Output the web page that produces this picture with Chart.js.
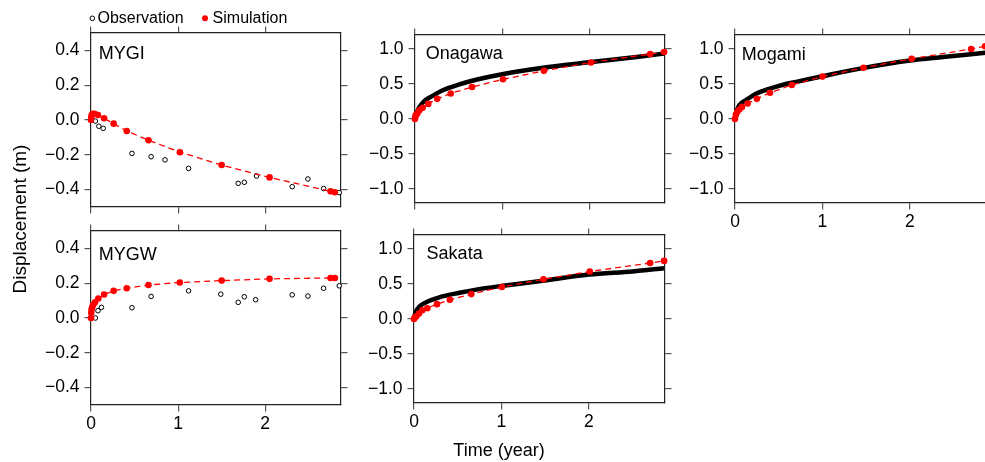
<!DOCTYPE html>
<html><head><meta charset="utf-8">
<script src="https://cdn.jsdelivr.net/npm/chart.js@4/dist/chart.umd.min.js"></script>
<style>
html,body{margin:0;padding:0;background:#fff;overflow:hidden;width:985px;height:462px;position:relative;}
canvas{position:absolute;left:0;top:0;}
</style></head><body>
<canvas id="p1"></canvas><canvas id="p2"></canvas><canvas id="p3"></canvas><canvas id="p4"></canvas><canvas id="p5"></canvas>
<script>
// ---------- data ----------
const timeTicks = [0, 1, 2];
const timeTickLabels = ['0', '1', '2'];
const gpsTicks = [0.4, 0.2, 0, -0.2, -0.4];
const gpsTickLabels = ['0.4', '0.2', '0.0', '\u22120.2', '\u22120.4'];
const insarTicks = [1, 0.5, 0, -0.5, -1];
const insarTickLabels = ['1.0', '0.5', '0.0', '\u22120.5', '\u22121.0'];

const mygiObsT = [0.05, 0.09, 0.14, 0.47, 0.69, 0.85, 1.12, 1.69, 1.76, 1.90, 2.31, 2.49, 2.67, 2.85];
const mygiObsD = [-0.006, -0.036, -0.048, -0.192, -0.211, -0.229, -0.278, -0.364, -0.358, -0.322, -0.383, -0.339, -0.394, -0.417];
const mygiSimT = [0, 0.004, 0.01, 0.02, 0.04, 0.08, 0.15, 0.26, 0.41, 0.66, 1.02, 1.5, 2.05, 2.75, 2.8];
const mygiSimD = [0, 0.018, 0.03, 0.036, 0.036, 0.029, 0.01, -0.021, -0.063, -0.116, -0.185, -0.259, -0.33, -0.41, -0.415];

const mygwObsT = [0.05, 0.08, 0.12, 0.47, 0.69, 1.12, 1.49, 1.69, 1.76, 1.89, 2.31, 2.49, 2.67, 2.85];
const mygwObsD = [0.0, 0.042, 0.061, 0.059, 0.124, 0.156, 0.137, 0.09, 0.122, 0.105, 0.133, 0.126, 0.171, 0.185];
const mygwSimT = [0, 0.003, 0.007, 0.015, 0.025, 0.046, 0.084, 0.15, 0.26, 0.41, 0.66, 1.02, 1.5, 2.05, 2.75, 2.8];
const mygwSimD = [0, 0.03, 0.05, 0.065, 0.075, 0.09, 0.112, 0.135, 0.156, 0.171, 0.19, 0.204, 0.215, 0.225, 0.23, 0.23];

const onaObsT = [0, 0.01, 0.03, 0.05, 0.08, 0.12, 0.2, 0.32, 0.5, 0.7, 1.0, 1.43, 2.0, 2.57, 2.86];
const onaObsD = [0, 0.05, 0.12, 0.17, 0.22, 0.27, 0.33, 0.41, 0.49, 0.56, 0.64, 0.725, 0.81, 0.89, 0.935];
const onaSimT = [0, 0.005, 0.012, 0.027, 0.05, 0.088, 0.152, 0.255, 0.41, 0.655, 1.01, 1.48, 2.02, 2.70, 2.86];
const onaSimD = [0, 0.04, 0.06, 0.077, 0.125, 0.159, 0.216, 0.288, 0.365, 0.457, 0.567, 0.688, 0.808, 0.928, 0.957];

const mogObsT = [0, 0.01, 0.03, 0.05, 0.125, 0.24, 0.39, 0.55, 0.70, 1.0, 1.43, 2.0, 2.38, 2.86];
const mogObsD = [0, 0.08, 0.15, 0.2, 0.27, 0.36, 0.43, 0.49, 0.53, 0.61, 0.72, 0.835, 0.885, 0.945];
const mogSimT = [0, 0.01, 0.025, 0.05, 0.08, 0.145, 0.25, 0.40, 0.65, 1.0, 1.47, 2.02, 2.70, 2.86];
const mogSimD = [0, 0.06, 0.1, 0.135, 0.173, 0.221, 0.288, 0.375, 0.486, 0.606, 0.733, 0.86, 1.0, 1.04];

const sakObsT = [0, 0.02, 0.065, 0.14, 0.29, 0.52, 0.71, 1.02, 1.43, 2.0, 2.5, 2.86];
const sakObsD = [0.02, 0.1, 0.18, 0.24, 0.31, 0.375, 0.42, 0.475, 0.54, 0.635, 0.68, 0.725];
const sakSimT = [0, 0.01, 0.027, 0.057, 0.095, 0.152, 0.263, 0.41, 0.655, 1.005, 1.48, 2.01, 2.70, 2.86];
const sakSimD = [0, 0.02, 0.038, 0.077, 0.125, 0.154, 0.212, 0.274, 0.356, 0.457, 0.567, 0.678, 0.80, 0.83];

const seriesNames = ['Observation', 'Simulation'];
const axisTitleY = 'Displacement (m)';
const axisTitleX = 'Time (year)';
const TMAX = 2.87;

// ---------- layout ----------
const CW = 1010, CH = 462;
const YW = 70, RW = 20, TW = 20, BW = 40;
const FONT = '"Liberation Sans", Arial, Helvetica, sans-serif';
const zip = (t, d) => t.map((v, i) => ({x: v, y: d[i]}));

const panelLabel = {
  id: 'panelLabel',
  afterDraw(chart, args, o) {
    const {ctx, chartArea: a} = chart;
    ctx.save();
    ctx.font = '18px ' + FONT;
    ctx.fillStyle = '#000';
    ctx.textBaseline = 'alphabetic';
    ctx.textAlign = 'left';
    ctx.fillText(o.text, a.left + o.dx, a.top + o.dy);
    ctx.restore();
  }
};

const globalText = {
  id: 'globalText',
  afterDraw(chart, args, o) {
    if (!o.on) return;
    const ctx = chart.ctx;
    ctx.save();
    ctx.fillStyle = '#000';
    ctx.font = '16px ' + FONT;
    ctx.textBaseline = 'alphabetic';
    ctx.textAlign = 'left';
    // legend
    ctx.beginPath(); ctx.arc(92.3, 18.3, 2.3, 0, Math.PI * 2);
    ctx.lineWidth = 1; ctx.strokeStyle = '#000'; ctx.stroke();
    ctx.fillText(seriesNames[0], 97.5, 23.3);
    ctx.beginPath(); ctx.arc(205, 18.3, 3, 0, Math.PI * 2);
    ctx.fillStyle = '#ff0000'; ctx.fill();
    ctx.fillStyle = '#000';
    ctx.fillText(seriesNames[1], 212.6, 23.3);
    // axis titles
    ctx.font = '18px ' + FONT;
    ctx.textAlign = 'center';
    ctx.fillText(axisTitleX, 499, 456);
    ctx.font = '19px ' + FONT;
    ctx.translate(25.5, 219);
    ctx.rotate(-Math.PI / 2);
    ctx.fillText(axisTitleY, 0, 0);
    ctx.restore();
  }
};

function axis(pos, min, max, ticks, labels, showLabels, fit) {
  const horiz = pos === 'top' || pos === 'bottom';
  return {
    type: 'linear', position: pos, min: min, max: max,
    afterBuildTicks: s => { s.ticks = ticks.map(v => ({value: v})); },
    afterFit: s => { if (horiz) s.height = fit; else s.width = fit; },
    ticks: {
      display: showLabels, autoSkip: false, maxRotation: 0,
      padding: horiz ? 2.5 : 5,
      color: '#000',
      font: {family: FONT, size: 17.5},
      callback: (v, i) => labels[i]
    },
    grid: {drawOnChartArea: false, drawTicks: true, tickLength: 6.5, color: '#555', lineWidth: 1.2},
    border: {display: true, color: '#222', width: 1.2}
  };
}

function makePanel(id, p) {
  const cv = document.getElementById(id);
  cv.width = CW; cv.height = CH;
  cv.style.width = CW + 'px'; cv.style.height = CH + 'px';
  const datasets = [];
  datasets.push({
    label: seriesNames[1], data: zip(p.simT, p.simD), order: 0, clip: false,
    borderColor: '#ff0000', borderWidth: 1.3, borderDash: [6, 4],
    pointRadius: 3.3, pointBackgroundColor: '#ff0000', pointBorderWidth: 0,
    showLine: true, tension: 0
  });
  if (p.dense) {
    datasets.push({
      label: seriesNames[0], data: zip(p.obsT, p.obsD), order: 1, clip: false,
      borderColor: '#000', borderWidth: 4.5, pointRadius: 0, showLine: true,
      cubicInterpolationMode: 'monotone'
    });
  } else {
    datasets.push({
      label: seriesNames[0], data: zip(p.obsT, p.obsD), order: 1, clip: false,
      borderColor: '#000', backgroundColor: '#fff', pointBorderColor: '#000',
      pointBackgroundColor: '#fff', pointBorderWidth: 1, pointRadius: 2.3, showLine: false
    });
  }
  const a = p.area;
  new Chart(cv, {
    type: 'scatter',
    data: {datasets},
    options: {
      responsive: false, animation: false, devicePixelRatio: 1,
      layout: {padding: {left: a.l - YW, right: CW - a.r - RW, top: a.t - TW, bottom: CH - a.b - BW}},
      plugins: {legend: {display: false}, tooltip: {enabled: false},
        panelLabel: {text: p.label, dx: p.dx, dy: p.dy},
        globalText: {on: !!p.global}},
      scales: {
        x: axis('bottom', 0, TMAX, timeTicks, timeTickLabels, p.showX, BW),
        x2: axis('top', 0, TMAX, timeTicks, timeTickLabels, false, TW),
        y: axis('left', p.yMin, p.yMax, p.yTicks, p.yLabels, true, YW),
        y2: axis('right', p.yMin, p.yMax, p.yTicks, p.yLabels, false, RW)
      }
    },
    plugins: [panelLabel, globalText]
  });
}

makePanel('p1', {area: {l: 91, r: 341, t: 33, b: 207}, yMin: -0.5, yMax: 0.5, yTicks: gpsTicks, yLabels: gpsTickLabels,
  showX: false, label: 'MYGI', dx: 7.7, dy: 25.5, obsT: mygiObsT, obsD: mygiObsD, simT: mygiSimT, simD: mygiSimD, global: true});
makePanel('p2', {area: {l: 91, r: 341, t: 231, b: 405}, yMin: -0.5, yMax: 0.5, yTicks: gpsTicks, yLabels: gpsTickLabels,
  showX: true, label: 'MYGW', dx: 7.7, dy: 28.5, obsT: mygwObsT, obsD: mygwObsD, simT: mygwSimT, simD: mygwSimD});
makePanel('p3', {area: {l: 415, r: 665, t: 35, b: 203}, yMin: -1.2, yMax: 1.2, yTicks: insarTicks, yLabels: insarTickLabels,
  showX: false, label: 'Onagawa', dx: 10.8, dy: 23.5, dense: true, obsT: onaObsT, obsD: onaObsD, simT: onaSimT, simD: onaSimD});
makePanel('p4', {area: {l: 735, r: 986, t: 35, b: 203}, yMin: -1.2, yMax: 1.2, yTicks: insarTicks, yLabels: insarTickLabels,
  showX: true, label: 'Mogami', dx: 6.8, dy: 24.5, dense: true, obsT: mogObsT, obsD: mogObsD, simT: mogSimT, simD: mogSimD});
makePanel('p5', {area: {l: 414, r: 665, t: 235, b: 403}, yMin: -1.2, yMax: 1.2, yTicks: insarTicks, yLabels: insarTickLabels,
  showX: true, label: 'Sakata', dx: 12.6, dy: 23.7, dense: true, obsT: sakObsT, obsD: sakObsD, simT: sakSimT, simD: sakSimD});
</script>
</body></html>
